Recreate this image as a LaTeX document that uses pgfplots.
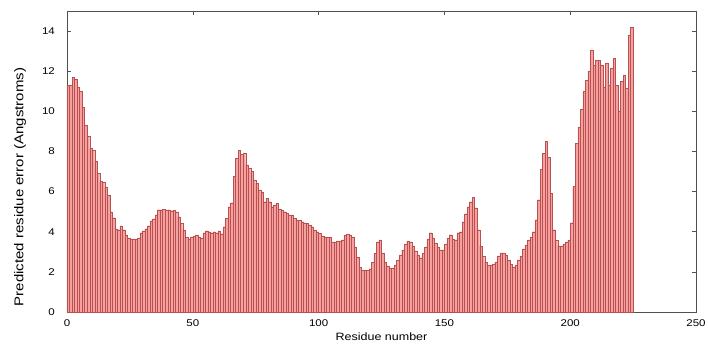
\documentclass[border=0pt]{standalone}
\usepackage{pgfplots}
\pgfplotsset{compat=1.18}
\usepackage{pgfplotstable}
\usepackage{graphicx}
\usepackage{fontspec}
\setmainfont{Liberation Sans}

\definecolor{barfill}{RGB}{246,160,160}
\definecolor{baredge}{RGB}{185,80,80}
\definecolor{axcol}{RGB}{80,80,80}

\pgfplotstableread{
x y
0 11.3
1 11.3
2 11.7
3 11.6
4 11.2
5 11.0
6 10.2
7 9.3
8 8.75
9 8.15
10 8.05
11 7.5
12 6.9
13 6.5
14 6.45
15 6.2
16 5.8
17 5.0
18 4.7
19 4.15
20 4.1
21 4.3
22 4.1
23 3.85
24 3.7
25 3.65
26 3.65
27 3.65
28 3.7
29 3.95
30 4.05
31 4.15
32 4.3
33 4.55
34 4.65
35 4.85
36 5.1
37 5.1
38 5.12
39 5.08
40 5.1
41 5.05
42 5.08
43 5.0
44 4.75
45 4.42
46 4.09
47 3.72
48 3.64
49 3.75
50 3.78
51 3.84
52 3.75
53 3.7
54 3.95
55 4.05
56 4.0
57 3.95
58 4.0
59 3.95
60 4.05
61 3.9
62 4.25
63 4.67
64 5.25
65 5.45
66 6.76
67 7.67
68 8.07
69 7.87
70 7.9
71 7.33
72 7.16
73 7.0
74 6.58
75 6.41
76 6.08
77 5.99
78 5.5
79 5.66
80 5.5
81 5.25
82 5.33
83 5.42
84 5.12
85 5.08
86 5.0
87 4.92
88 4.84
89 4.84
90 4.67
91 4.58
92 4.58
93 4.5
94 4.45
95 4.42
96 4.33
97 4.25
98 4.09
99 4.0
100 3.92
101 3.79
102 3.75
103 3.75
104 3.72
105 3.5
106 3.5
107 3.55
108 3.55
109 3.59
110 3.84
111 3.87
112 3.84
113 3.75
114 3.25
115 2.74
116 2.24
117 2.08
118 2.08
119 2.08
120 2.16
121 2.49
122 2.91
123 3.5
124 3.59
125 2.95
126 2.5
127 2.3
128 2.2
129 2.2
130 2.35
131 2.6
132 2.85
133 3.1
134 3.4
135 3.55
136 3.5
137 3.3
138 3.05
139 2.85
140 2.7
141 2.95
142 3.25
143 3.65
144 3.95
145 3.7
146 3.45
147 3.25
148 3.1
149 3.1
150 3.4
151 3.7
152 3.85
153 3.65
154 3.6
155 3.95
156 4.0
157 4.5
158 4.9
159 5.25
160 5.5
161 5.7
162 5.2
163 4.1
164 3.3
165 2.8
166 2.5
167 2.35
168 2.35
169 2.4
170 2.5
171 2.8
172 2.95
173 2.95
174 2.85
175 2.6
176 2.4
177 2.25
178 2.35
179 2.6
180 2.8
181 3.15
182 3.35
183 3.6
184 3.75
185 4.0
186 4.6
187 5.6
188 7.1
189 7.9
190 8.5
191 7.7
192 5.9
193 4.1
194 3.6
195 3.3
196 3.3
197 3.4
198 3.5
199 3.6
200 4.45
201 6.25
202 8.4
203 9.2
204 10.1
205 11.0
206 11.55
207 12.0
208 13.05
209 12.3
210 12.55
211 12.55
212 12.3
213 11.2
214 12.4
215 11.3
216 12.15
217 12.65
218 11.3
219 10.0
220 11.5
221 11.8
222 11.15
223 13.8
224 14.2
}\pred

\begin{document}
\begin{tikzpicture}
\begin{axis}[
  scale only axis,
  width=629pt, height=301pt,
  xmin=0, xmax=250, ymin=0, ymax=15,
  xtick={0,50,100,150,200,250},
  ytick={0,2,4,6,8,10,12,14},
  tick align=inside,
  major tick length=4pt,
  axis line style={axcol, line width=0.6pt},
  every tick/.style={axcol, line width=0.6pt},
  /pgf/number format/assume math mode=true,
  xticklabel={\scalebox{1}[0.85]{\pgfmathprintnumber{\tick}}},
  yticklabel={\scalebox{1}[0.85]{\pgfmathprintnumber{\tick}}},
  xticklabel style={font=\fontsize{11.5}{13}\selectfont, anchor=north, inner sep=0pt, yshift=-7.5pt},
  yticklabel style={font=\fontsize{11.5}{13}\selectfont, anchor=east, inner sep=0pt, xshift=-12pt},
  xlabel={\scalebox{1}[0.85]{Residue number}},
  ylabel={\scalebox{1}[0.85]{Predicted residue error (Angstroms)}},
  every axis x label/.style={at={(axis description cs:0.5,-0.083)}, anchor=center, font=\fontsize{12.5}{14}\selectfont},
  every axis y label/.style={at={(axis description cs:-0.0747,0.415)}, anchor=center, rotate=90, font=\fontsize{15}{17}\selectfont},
]
\addplot[ybar, bar width=1, bar shift=0pt, fill=barfill, draw=baredge, line width=0.25pt]
  table[x expr=\thisrow{x}+0.5, y=y] {\pred};
\coordinate (O) at (rel axis cs:0,0);
\end{axis}
\path (O) ++(-67pt,-31pt) rectangle ++(708pt,343pt);
\end{tikzpicture}
\end{document}
